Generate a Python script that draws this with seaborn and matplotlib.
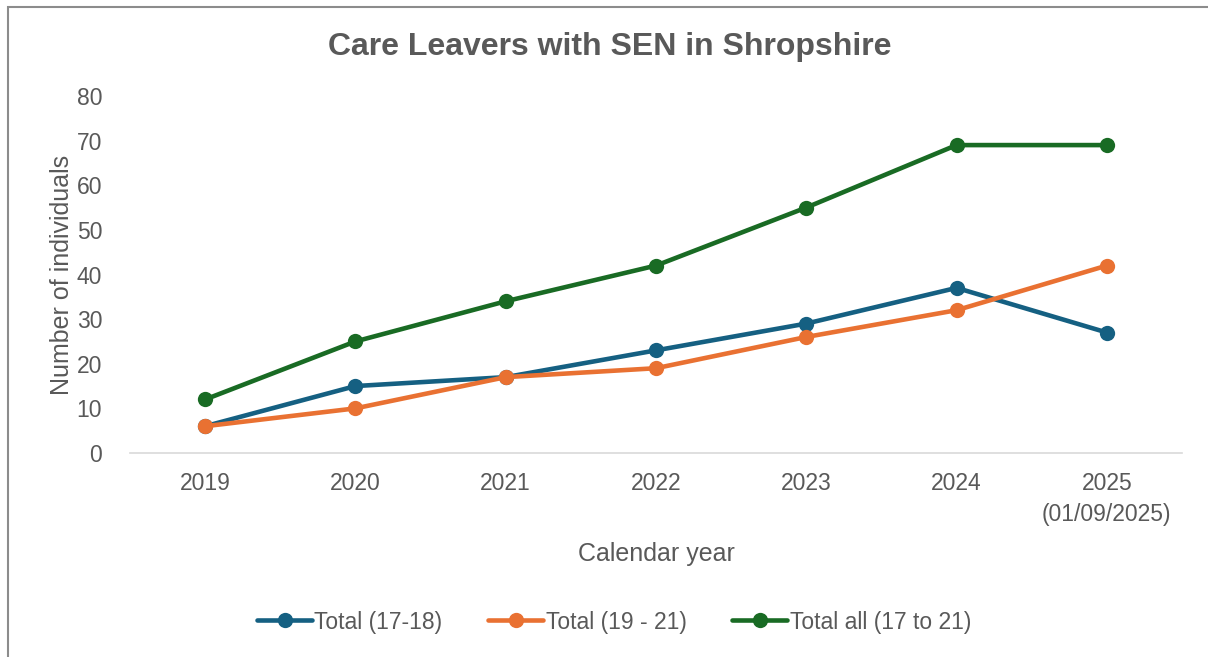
import matplotlib
matplotlib.use('Agg')
import matplotlib.pyplot as plt
import matplotlib.patches as mpatches
import pandas as pd
import seaborn as sns

# ─── DATA ─────────────────────────────────────────────────────────────────
years = ['2019', '2020', '2021', '2022', '2023', '2024', '2025\n(01/09/2025)']
total_17_18 = [6, 15, 17, 23, 29, 37, 27]
total_19_21 = [6, 10, 17, 19, 26, 32, 42]
total_all = [12, 25, 34, 42, 55, 69, 69]
series_names = ['Total (17-18)', 'Total (19 - 21)', 'Total all (17 to 21)']
colors = ['#156082', '#E97132', '#196B24']

df = pd.DataFrame({
    'year': years * 3,
    'value': total_17_18 + total_19_21 + total_all,
    'series': [s for s in series_names for _ in years],
})

# ─── STYLE ────────────────────────────────────────────────────────────────
sns.set_theme(style='white')
plt.rcParams['font.family'] = ['Liberation Sans', 'DejaVu Sans']
grey = '#595959'

fig = plt.figure(figsize=(12.08, 6.57), dpi=100)
ax = fig.add_axes([130 / 1208, 204 / 657, 1052 / 1208, 357 / 657])

sns.lineplot(data=df, x='year', y='value', hue='series', palette=colors,
             marker='o', markersize=11, markeredgewidth=0, linewidth=3.3,
             sort=False, ax=ax, legend=False)

ax.set_xlim(-0.5, 6.5)
ax.set_ylim(0, 80)
ax.set_yticks(range(0, 81, 10))
ax.tick_params(axis='both', length=0, labelsize=16.5, labelcolor=grey)
ax.tick_params(axis='y', pad=20)
ax.tick_params(axis='x', pad=14)
for side in ['top', 'right', 'left']:
    ax.spines[side].set_visible(False)
ax.spines['bottom'].set_color('#d9d9d9')
ax.spines['bottom'].set_linewidth(1.2)
for lbl in ax.get_xticklabels():
    lbl.set_linespacing(1.4)

ax.set_xlabel('Calendar year', fontsize=18, color=grey, labelpad=12)
ax.set_ylabel('Number of individuals', fontsize=18, color=grey, labelpad=2)
fig.text(610 / 1208, 1 - 47 / 657, 'Care Leavers with SEN in Shropshire',
         ha='center', va='center', fontsize=23, fontweight='bold', color=grey)

handles = [plt.Line2D([], [], color=c, lw=3.3, marker='o', markersize=11,
                      markeredgewidth=0) for c in colors]
leg = fig.legend(handles, series_names, loc='center', ncol=3,
                 bbox_to_anchor=(614 / 1208, 1 - 622 / 657), frameon=False,
                 fontsize=16.5, handlelength=2.4, handletextpad=0.1,
                 columnspacing=2.0, labelcolor=grey)

# outer chart border
fig.patches.append(mpatches.Rectangle((8 / 1208, -0.05), 1.1, 1 - 7 / 657 + 0.05,
                                      transform=fig.transFigure, fill=False,
                                      edgecolor='#8c8c8c', linewidth=1.5))

fig.savefig('out.png', dpi=100)
